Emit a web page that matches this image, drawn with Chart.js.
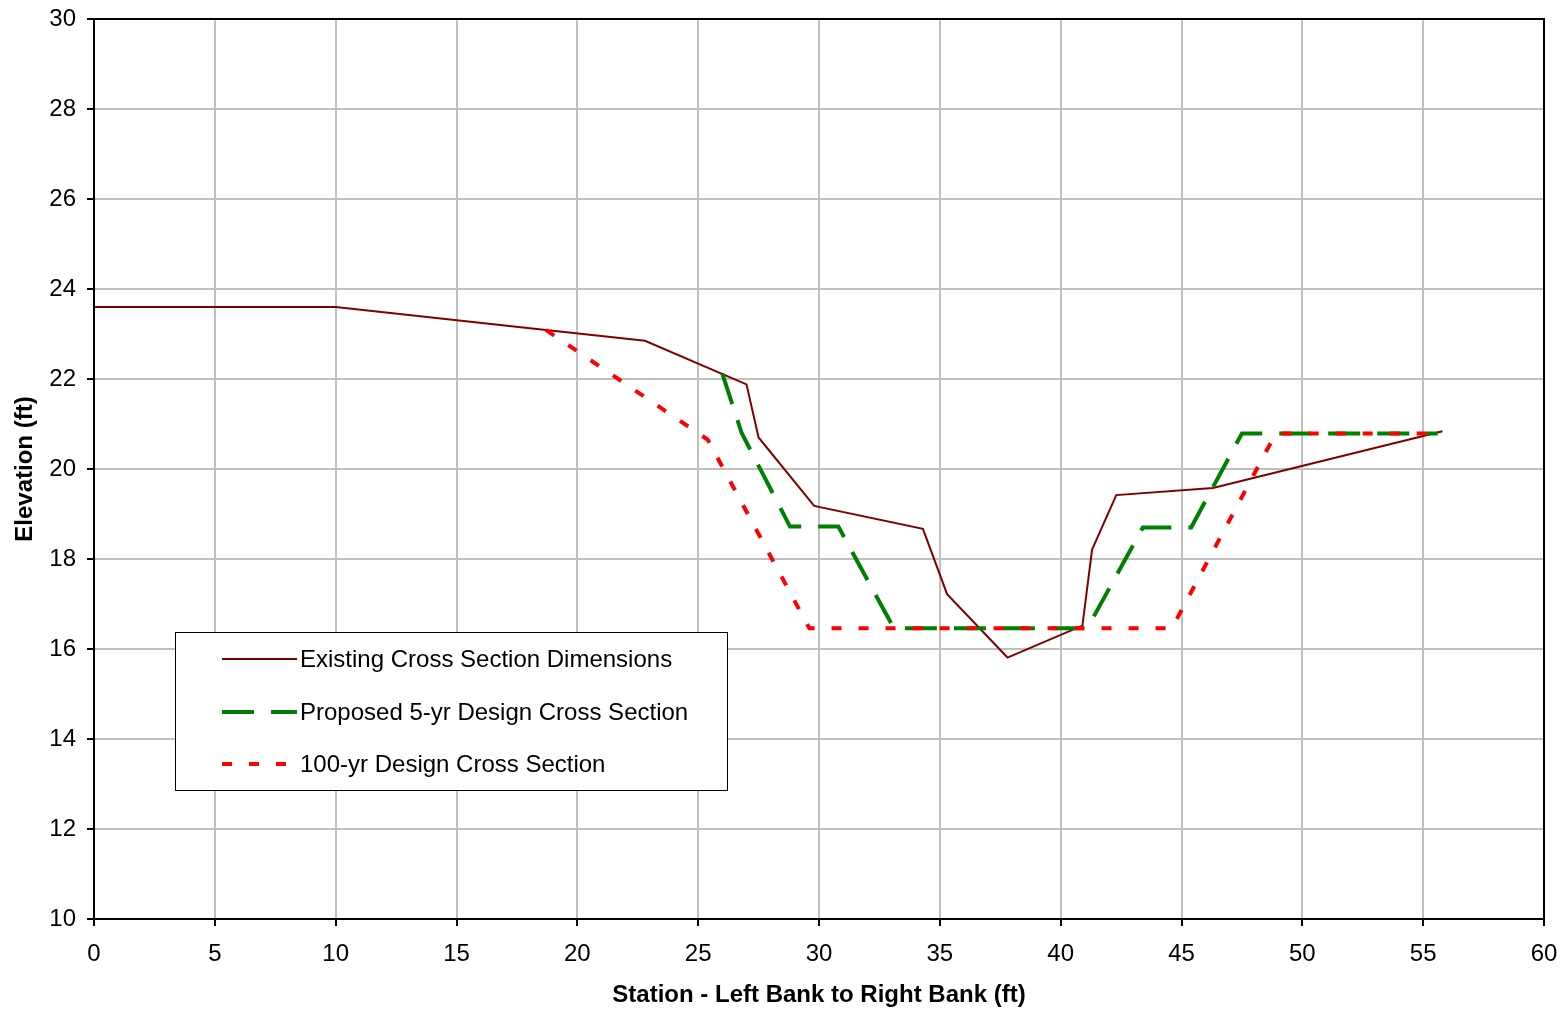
<!DOCTYPE html>
<html>
<head>
<meta charset="utf-8">
<script src="https://cdn.jsdelivr.net/npm/chart.js@4/dist/chart.umd.min.js"></script>
<style>
  body { margin: 0; background: #fff; }
  canvas { display: block; }
</style>
</head>
<body>
<canvas id="xsChart" width="1564" height="1010"></canvas>
<script>
// station (ft) / elevation (ft)
const existingX = [0, 10, 18.7, 22.8, 27.0, 27.5, 29.8, 34.3, 35.3, 37.8, 40.9, 41.3, 42.3, 46.3, 55.8];
const existingY = [23.6, 23.6, 23.09, 22.85, 21.88, 20.7, 19.18, 18.67, 17.22, 15.81, 16.52, 18.21, 19.42, 19.58, 20.84];

const proposedX = [26.0, 26.8, 28.8, 30.8, 33.1, 41.1, 43.4, 45.4, 47.5, 55.6];
const proposedY = [22.12, 20.8, 18.72, 18.72, 16.46, 16.46, 18.7, 18.7, 20.79, 20.79];

const hundredX = [18.7, 25.4, 29.6, 44.6, 48.9, 55.6];
const hundredY = [23.09, 20.65, 16.46, 16.46, 20.79, 20.79];

const xTicks = [0, 5, 10, 15, 20, 25, 30, 35, 40, 45, 50, 55, 60];
const yTicks = [10, 12, 14, 16, 18, 20, 22, 24, 26, 28, 30];

const labels = [
    'Existing Cross Section Dimensions',
    'Proposed 5-yr Design Cross Section',
    '100-yr Design Cross Section'
];

function toPoints(xs, ys) {
    return xs.map((x, i) => ({ x: x, y: ys[i] }));
}

const FONT = '"Liberation Sans", Arial, sans-serif';

// black frame round the plot area
const frame = {
    id: 'frame',
    afterDraw(chart) {
        const a = chart.chartArea;
        const ctx = chart.ctx;
        ctx.save();
        ctx.strokeStyle = '#000';
        ctx.lineWidth = 2;
        ctx.strokeRect(a.left, a.top, a.right - a.left, a.bottom - a.top);
        ctx.restore();
    }
};

// legend box sitting inside the plot
const boxLegend = {
    id: 'boxLegend',
    afterDraw(chart) {
        const ctx = chart.ctx;
        const bx = 175.5, by = 632.5, bw = 552, bh = 158;
        ctx.save();
        ctx.fillStyle = '#fff';
        ctx.fillRect(bx, by, bw, bh);
        ctx.strokeStyle = '#000';
        ctx.lineWidth = 1;
        ctx.strokeRect(bx, by, bw, bh);

        const rows = [659, 712, 764];
        chart.data.datasets.forEach((ds, i) => {
            const y = rows[i];
            ctx.beginPath();
            ctx.strokeStyle = ds.borderColor;
            ctx.lineWidth = ds.borderWidth;
            ctx.setLineDash(ds.borderDash || []);
            ctx.moveTo(222, y);
            ctx.lineTo(297, y);
            ctx.stroke();
            ctx.setLineDash([]);
            ctx.fillStyle = '#000';
            ctx.font = '24px ' + FONT;
            ctx.textAlign = 'left';
            ctx.textBaseline = 'middle';
            ctx.fillText(ds.label, 300, y + 1);
        });
        ctx.restore();
    }
};

new Chart(document.getElementById('xsChart'), {
    type: 'line',
    data: {
        datasets: [{
            label: labels[0],
            data: toPoints(existingX, existingY),
            borderColor: '#800000',
            borderWidth: 2,
            pointRadius: 0,
            tension: 0,
            order: 3
        }, {
            label: labels[1],
            data: toPoints(proposedX, proposedY),
            borderColor: '#008000',
            borderWidth: 4,
            borderDash: [32, 17],
            borderCapStyle: 'butt',
            pointRadius: 0,
            tension: 0,
            order: 2
        }, {
            label: labels[2],
            data: toPoints(hundredX, hundredY),
            borderColor: '#ff0000',
            borderWidth: 4,
            borderDash: [10, 17],
            borderCapStyle: 'butt',
            pointRadius: 0,
            tension: 0,
            order: 1
        }]
    },
    options: {
        responsive: false,
        animation: false,
        devicePixelRatio: 1,
        layout: { padding: { top: 19, right: 20, left: 0, bottom: 0 } },
        plugins: {
            legend: { display: false },
            tooltip: { enabled: false }
        },
        scales: {
            x: {
                type: 'linear',
                min: 0,
                max: 60,
                afterBuildTicks: s => { s.ticks = xTicks.map(v => ({ value: v })); },
                afterFit: s => { s.height = 91; s.paddingLeft = 0; s.paddingRight = 0; },
                grid: { color: '#c0c0c0', lineWidth: 2, tickLength: 7, tickColor: '#000', tickWidth: 2 },
                border: { color: '#000', width: 2 },
                ticks: { color: '#000', padding: 14, maxRotation: 0, font: { family: FONT, size: 24 } },
                title: {
                    display: true,
                    text: 'Station - Left Bank to Right Bank (ft)',
                    color: '#000',
                    padding: { top: 0, bottom: 0 },
                    font: { family: FONT, size: 24, weight: 'bold' }
                }
            },
            y: {
                min: 10,
                max: 30,
                afterBuildTicks: s => { s.ticks = yTicks.map(v => ({ value: v })); },
                afterFit: s => { s.width = 94; s.paddingTop = 0; s.paddingBottom = 0; },
                grid: { color: '#c0c0c0', lineWidth: 2, tickLength: 7, tickColor: '#000', tickWidth: 2 },
                border: { color: '#000', width: 2 },
                ticks: { color: '#000', padding: 11, font: { family: FONT, size: 24 } },
                title: {
                    display: true,
                    text: 'Elevation (ft)',
                    color: '#000',
                    padding: { top: 11, bottom: 0 },
                    font: { family: FONT, size: 24, weight: 'bold' }
                }
            }
        }
    },
    plugins: [frame, boxLegend]
});
</script>
</body>
</html>
